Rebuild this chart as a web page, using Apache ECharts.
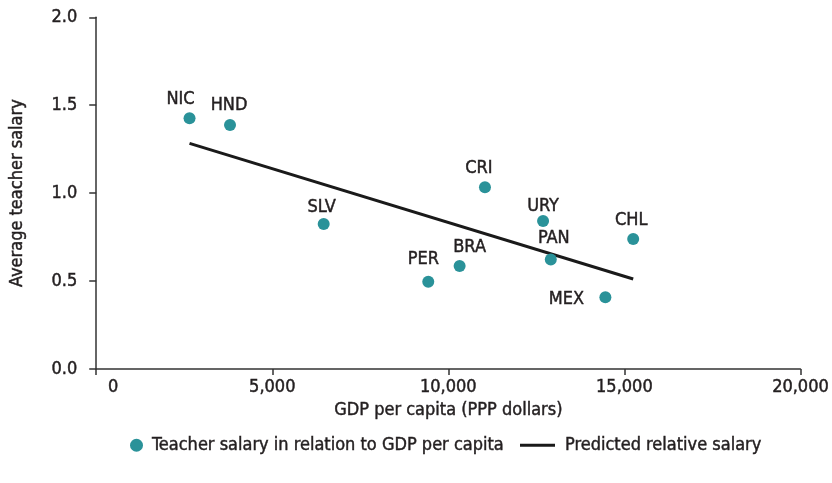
<!DOCTYPE html>
<html>
<head>
<meta charset="utf-8">
<script src="https://cdn.jsdelivr.net/npm/echarts@6/dist/echarts.min.js"></script>
<style>
  html, body { margin: 0; padding: 0; background: #ffffff; }
  #chart { width: 832px; height: 483px; }
</style>
</head>
<body>
<div id="chart"></div>
<script>
// Country codes and their values
const countries = ['NIC', 'HND', 'SLV', 'PER', 'BRA', 'CRI', 'URY', 'PAN', 'MEX', 'CHL'];
const gdpPerCapita = [2650, 3800, 6460, 9430, 10320, 11040, 12690, 12910, 14460, 15250];
const relativeSalary = [1.426, 1.388, 0.825, 0.496, 0.586, 1.033, 0.842, 0.623, 0.408, 0.739];

// Fitted line end points
const trendGdp = [2650, 15250];
const trendSalary = [1.283, 0.512];

// Axis ticks
const xTicks = [0, 5000, 10000, 15000, 20000];
const yTicks = [0.0, 0.5, 1.0, 1.5, 2.0];

const seriesNames = ['Teacher salary in relation to GDP per capita', 'Predicted relative salary'];

const FONT = '"DejaVu Sans Condensed", "DejaVu Sans", sans-serif';
const TEXT = '#231f20';
const TEAL = '#2a9299';
const HEAVY = { textBorderColor: TEXT, textBorderWidth: 0.45 };

// Label placement per country (offset from the marker)
const labelPlacement = {
  NIC: [-9, -19], HND: [-1, -20], SLV: [-2, -17], PER: [-5, -22], BRA: [10, -19],
  CRI: [-6, -19], URY: [0, -15], PAN: [3, -21], MEX: [-39, 2], CHL: [-2, -19]
};

const points = countries.map((c, i) => ({
  value: [gdpPerCapita[i], relativeSalary[i]],
  name: c,
  label: { offset: labelPlacement[c] }
}));

const chart = echarts.init(document.getElementById('chart'), null, { renderer: 'canvas' });

chart.setOption({
  animation: false,
  textStyle: { fontFamily: FONT },
  grid: { left: 94, right: 25.5, top: 17.3, bottom: 114, containLabel: false },
  legend: [
    {
      data: [{ name: seriesNames[0], icon: 'circle' }],
      left: 125, top: 431,
      itemWidth: 13, itemHeight: 13, itemGap: 0,
      textStyle: Object.assign({ fontFamily: FONT, fontSize: 18, color: TEXT, padding: [0, 0, 0, 4] }, HEAVY)
    },
    {
      data: [{ name: seriesNames[1], icon: 'rect' }],
      left: 515, top: 431,
      itemWidth: 35, itemHeight: 3, itemGap: 0,
      textStyle: Object.assign({ fontFamily: FONT, fontSize: 18, color: TEXT, padding: [0, 0, 0, 5] }, HEAVY)
    }
  ],
  xAxis: {
    type: 'value',
    min: xTicks[0], max: xTicks[xTicks.length - 1], interval: 5000,
    name: 'GDP per capita (PPP dollars)',
    nameLocation: 'middle', nameGap: 29,
    nameTextStyle: Object.assign({ fontFamily: FONT, fontSize: 18, color: TEXT }, HEAVY),
    axisLine: { show: true, onZero: false, lineStyle: { color: '#333333', width: 1.5 } },
    axisTick: { show: true, inside: false, length: 6, lineStyle: { color: '#333333', width: 1.5 } },
    axisLabel: Object.assign({
      margin: 9, fontFamily: FONT, fontSize: 18, color: TEXT,
      formatter: v => (v === 0 ? '{first|0}' : v.toLocaleString('en-US')),
      rich: { first: { fontFamily: FONT, fontSize: 18, color: TEXT, padding: [0, 0, 0, 34], textBorderColor: TEXT, textBorderWidth: 0.45 } }
    }, HEAVY),
    splitLine: { show: false }
  },
  yAxis: {
    type: 'value',
    min: yTicks[0], max: yTicks[yTicks.length - 1], interval: 0.5,
    name: 'Average teacher salary',
    nameLocation: 'middle', nameGap: 70,
    nameTextStyle: Object.assign({ fontFamily: FONT, fontSize: 18, color: TEXT }, HEAVY),
    axisLine: { show: true, onZero: false, lineStyle: { color: '#333333', width: 1.5 } },
    axisTick: { show: true, inside: false, length: 7, lineStyle: { color: '#333333', width: 1.5 } },
    axisLabel: Object.assign({
      margin: 19, fontFamily: FONT, fontSize: 18, color: TEXT,
      formatter: v => v.toFixed(1)
    }, HEAVY),
    splitLine: { show: false }
  },
  series: [
    {
      name: seriesNames[0],
      type: 'scatter',
      symbol: 'circle',
      symbolSize: 12,
      itemStyle: { color: TEAL, opacity: 1 },
      z: 3,
      label: Object.assign({
        show: true,
        position: 'inside',
        formatter: p => p.name,
        fontFamily: FONT, fontSize: 18, color: TEXT
      }, HEAVY),
      data: points
    },
    {
      name: seriesNames[1],
      type: 'line',
      symbol: 'none',
      lineStyle: { color: '#1a1a1a', width: 3 },
      itemStyle: { color: '#1a1a1a' },
      z: 2,
      data: trendGdp.map((x, i) => [x, trendSalary[i]])
    }
  ]
});
</script>
</body>
</html>
